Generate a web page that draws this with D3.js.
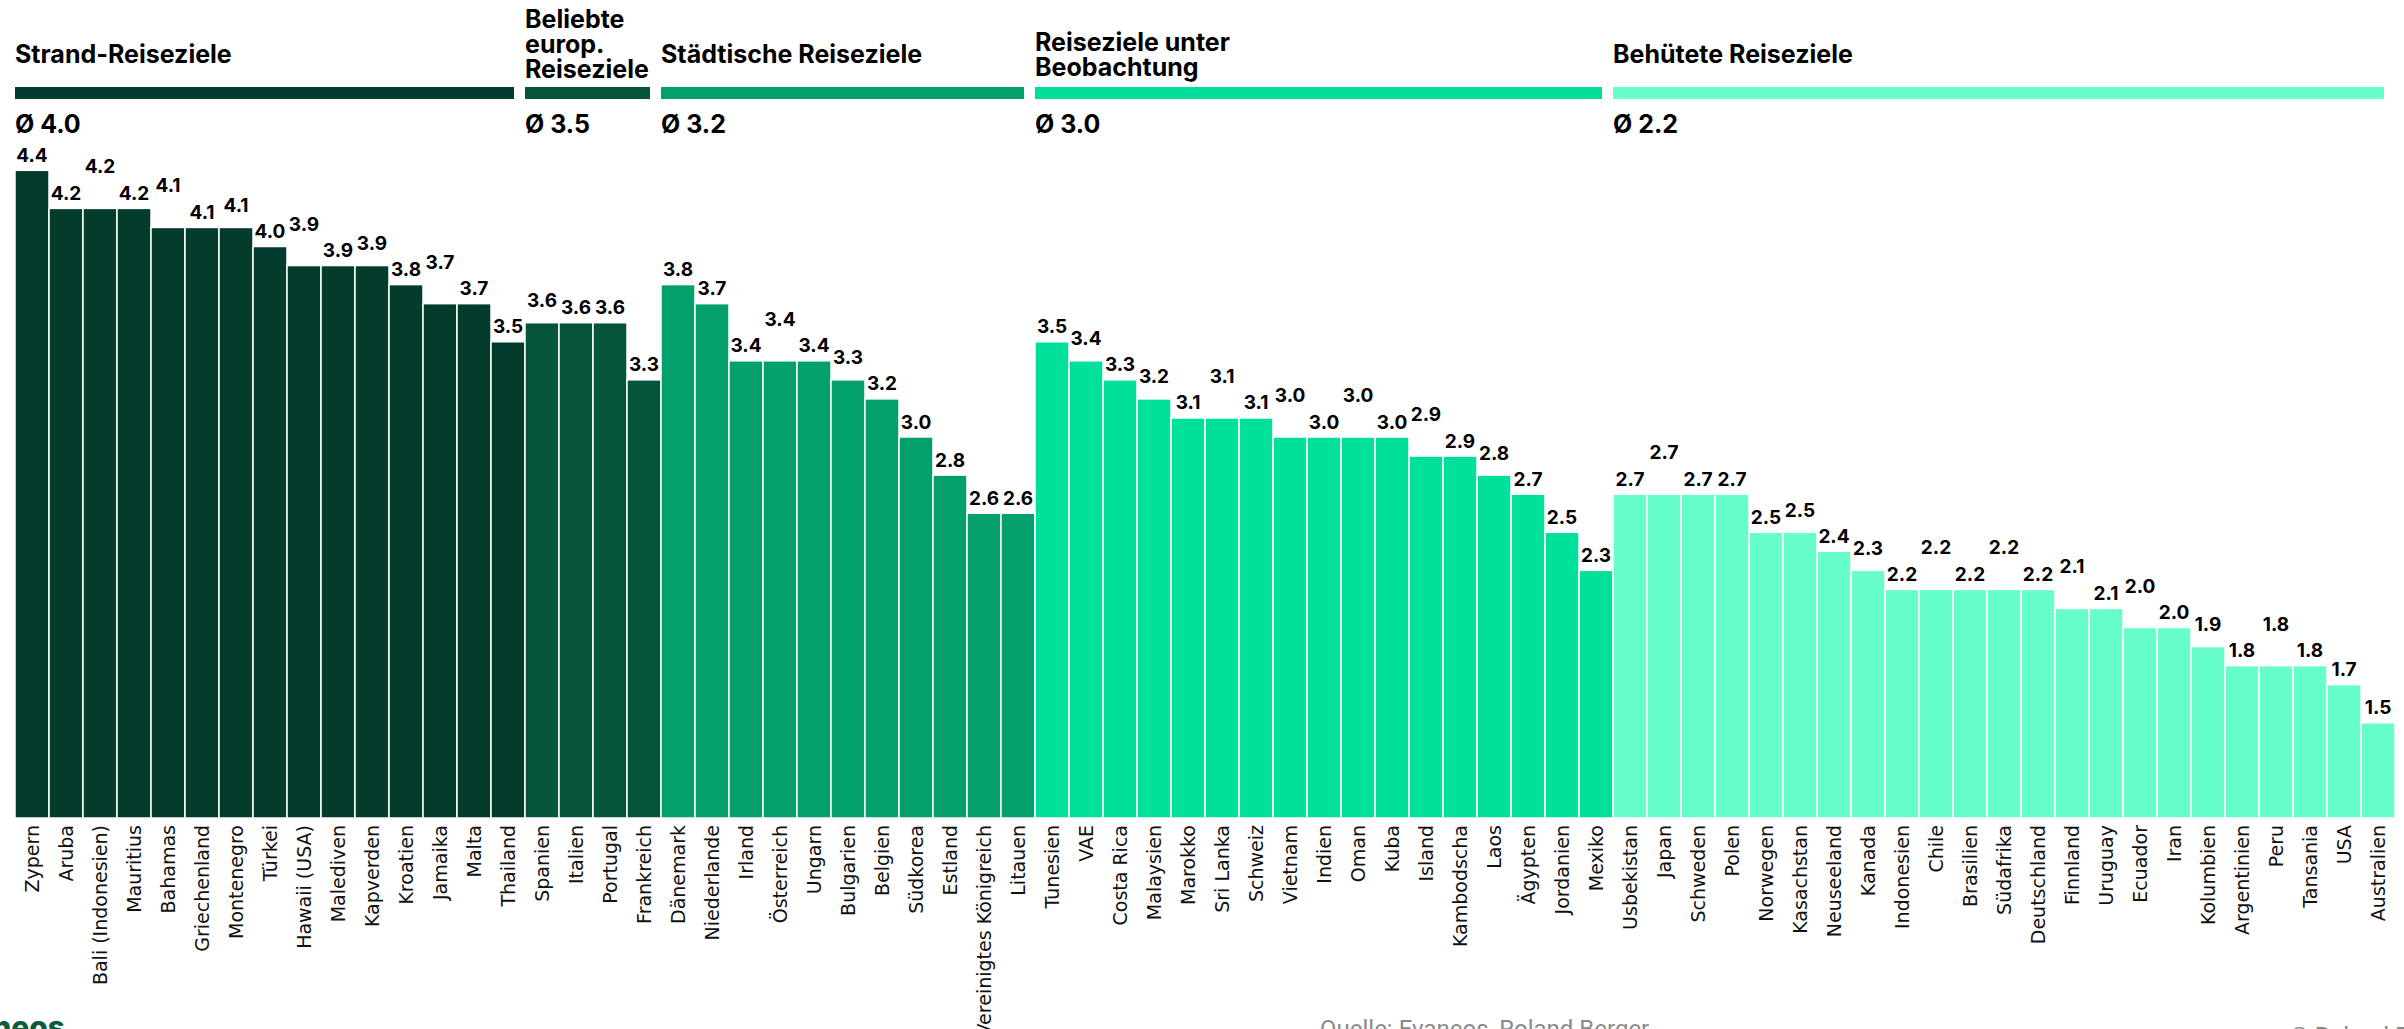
<!DOCTYPE html>
<html>
<head>
  <meta charset="utf-8" />
  <title>Reiseziele nach Sicherheit</title>
  <script src="https://cdn.jsdelivr.net/npm/d3@7/dist/d3.min.js"></script>
  <style>
    body { margin: 0; background: #fff; }
    svg { display: block; background: #fff; }
    .cat { font-family: "DejaVu Sans", sans-serif; font-size: 19px; fill: #111; }
    .val { font-family: Inter, sans-serif; font-weight: 700; font-size: 19px; fill: #000; }
    .head { font-family: Inter, sans-serif; font-weight: 700; font-size: 25px; fill: #000; }
    .foot { font-family: Roboto, sans-serif; font-size: 24px; fill: #8a8a8a; }
  </style>
</head>
<body>
<svg id="chart" width="2404" height="1029"></svg>
<script>
  // destinations, in chart order
  var countries = [
    "Zypern", "Aruba", "Bali (Indonesien)", "Mauritius", "Bahamas", "Griechenland", "Montenegro",
    "Türkei", "Hawaii (USA)", "Malediven", "Kapverden", "Kroatien", "Jamaika", "Malta", "Thailand",
    "Spanien", "Italien", "Portugal", "Frankreich",
    "Dänemark", "Niederlande", "Irland", "Österreich", "Ungarn", "Bulgarien", "Belgien", "Südkorea",
    "Estland", "Vereinigtes Königreich", "Litauen",
    "Tunesien", "VAE", "Costa Rica", "Malaysien", "Marokko", "Sri Lanka", "Schweiz", "Vietnam",
    "Indien", "Oman", "Kuba", "Island", "Kambodscha", "Laos", "Ägypten", "Jordanien", "Mexiko",
    "Usbekistan", "Japan", "Schweden", "Polen", "Norwegen", "Kasachstan", "Neuseeland", "Kanada",
    "Indonesien", "Chile", "Brasilien", "Südafrika", "Deutschland", "Finnland", "Uruguay", "Ecuador",
    "Iran", "Kolumbien", "Argentinien", "Peru", "Tansania", "USA", "Australien"
  ];
  var scores = [
    4.4, 4.2, 4.2, 4.2, 4.1, 4.1, 4.1, 4.0, 3.9, 3.9, 3.9, 3.8, 3.7, 3.7, 3.5,
    3.6, 3.6, 3.6, 3.3,
    3.8, 3.7, 3.4, 3.4, 3.4, 3.3, 3.2, 3.0, 2.8, 2.6, 2.6,
    3.5, 3.4, 3.3, 3.2, 3.1, 3.1, 3.1, 3.0, 3.0, 3.0, 3.0, 2.9, 2.9, 2.8, 2.7, 2.5, 2.3,
    2.7, 2.7, 2.7, 2.7, 2.5, 2.5, 2.4, 2.3, 2.2, 2.2, 2.2, 2.2, 2.2, 2.1, 2.1, 2.0, 2.0, 1.9,
    1.8, 1.8, 1.8, 1.7, 1.5
  ];
  var groupCounts = [15, 4, 11, 17, 23];
  var groupTitles = [
    ["Strand-Reiseziele"],
    ["Beliebte", "europ.", "Reiseziele"],
    ["Städtische Reiseziele"],
    ["Reiseziele unter", "Beobachtung"],
    ["Behütete Reiseziele"]
  ];
  var groupAverages = [4.0, 3.5, 3.2, 3.0, 2.2];

  var groupColors = ["#033b2c", "#05553d", "#03a06b", "#00e09b", "#66ffc9"];
  // stagger level of each value label (0 = just above the bar)
  var labelLift = [
    0, 0, 2, 0, 2, 0, 1, 0, 2, 0, 1, 0, 2, 0, 0,
    1, 0, 0, 0,
    0, 0, 0, 2, 0, 1, 0, 0, 0, 0, 0,
    0, 1, 0, 1, 0, 2, 0, 2, 0, 2, 0, 2, 0, 1, 0, 0, 0,
    0, 2, 0, 0, 0, 1, 0, 1, 0, 2, 0, 2, 0, 2, 0, 2, 0, 1, 0, 2, 0, 0, 0
  ];
  var liftPx = [8.5, 15.5, 35];

  var svg = d3.select("#chart");

  var x = d3.scaleBand().domain(countries).range([15, 2395]);
  var y = d3.scaleLinear().domain([1, 5]).range([818, 56]);
  var bw = x.bandwidth();

  var groupIndex = [];
  groupCounts.forEach(function (n, g) {
    for (var k = 0; k < n; k++) groupIndex.push(g);
  });

  // bars
  svg.append("g").selectAll("rect")
    .data(countries)
    .enter()
    .append("rect")
    .attr("x", function (d) { return x(d) })
    .attr("y", function (d, i) { return y(scores[i]) })
    .attr("width", bw)
    .attr("height", function (d, i) { return y(1) - y(scores[i]) })
    .style("fill", function (d, i) { return groupColors[groupIndex[i]] })
    .style("stroke", "#fff")
    .style("stroke-width", 1.5)

  // value labels
  svg.append("g").selectAll("text")
    .data(countries)
    .enter()
    .append("text")
    .attr("class", "val")
    .attr("text-anchor", "middle")
    .attr("x", function (d) { return x(d) + bw / 2 })
    .attr("y", function (d, i) { return y(scores[i]) - liftPx[labelLift[i]] })
    .text(function (d, i) { return d3.format(".1f")(scores[i]) })

  // category labels
  svg.append("g").selectAll("text")
    .data(countries)
    .enter()
    .append("text")
    .attr("class", "cat")
    .attr("text-anchor", "end")
    .attr("dominant-baseline", "central")
    .attr("transform", function (d) {
      return "translate(" + (x(d) + bw / 2) + "," + (y(1) + 7) + ") rotate(-90)"
    })
    .text(function (d) { return d })

  // group headers
  var start = 0;
  groupCounts.forEach(function (n, g) {
    var x0 = x(countries[start]);
    var x1 = x(countries[start + n - 1]) + bw;
    start += n;

    svg.append("rect")
      .attr("x", x0)
      .attr("y", 87)
      .attr("width", x1 - x0 - 11)
      .attr("height", 12)
      .style("fill", groupColors[g])

    var lines = groupTitles[g];
    var first = 63 - (lines.length - 1) * 12.5;
    var last = first + (lines.length - 1) * 25;
    if (last > 78) first -= last - 78;
    var t = svg.append("text").attr("class", "head");
    lines.forEach(function (line, k) {
      t.append("tspan").attr("x", x0).attr("y", first + k * 25).text(line)
    })

    svg.append("text")
      .attr("class", "head")
      .attr("x", x0)
      .attr("y", 133)
      .text("Ø " + groupAverages[g].toFixed(1))
  });

  // footer
  svg.append("text")
    .attr("x", 65).attr("y", 1038)
    .attr("text-anchor", "end")
    .style("font-family", "Inter, sans-serif")
    .style("font-weight", 800)
    .style("font-size", "30px")
    .style("fill", "#0c5b3b")
    .text("evaneos")
  svg.append("text")
    .attr("class", "foot")
    .attr("x", 1320).attr("y", 1037)
    .text("Quelle: Evaneos, Roland Berger")
  svg.append("text")
    .attr("class", "foot")
    .attr("x", 2290).attr("y", 1044)
    .text("© Roland Berger")
</script>
</body>
</html>
